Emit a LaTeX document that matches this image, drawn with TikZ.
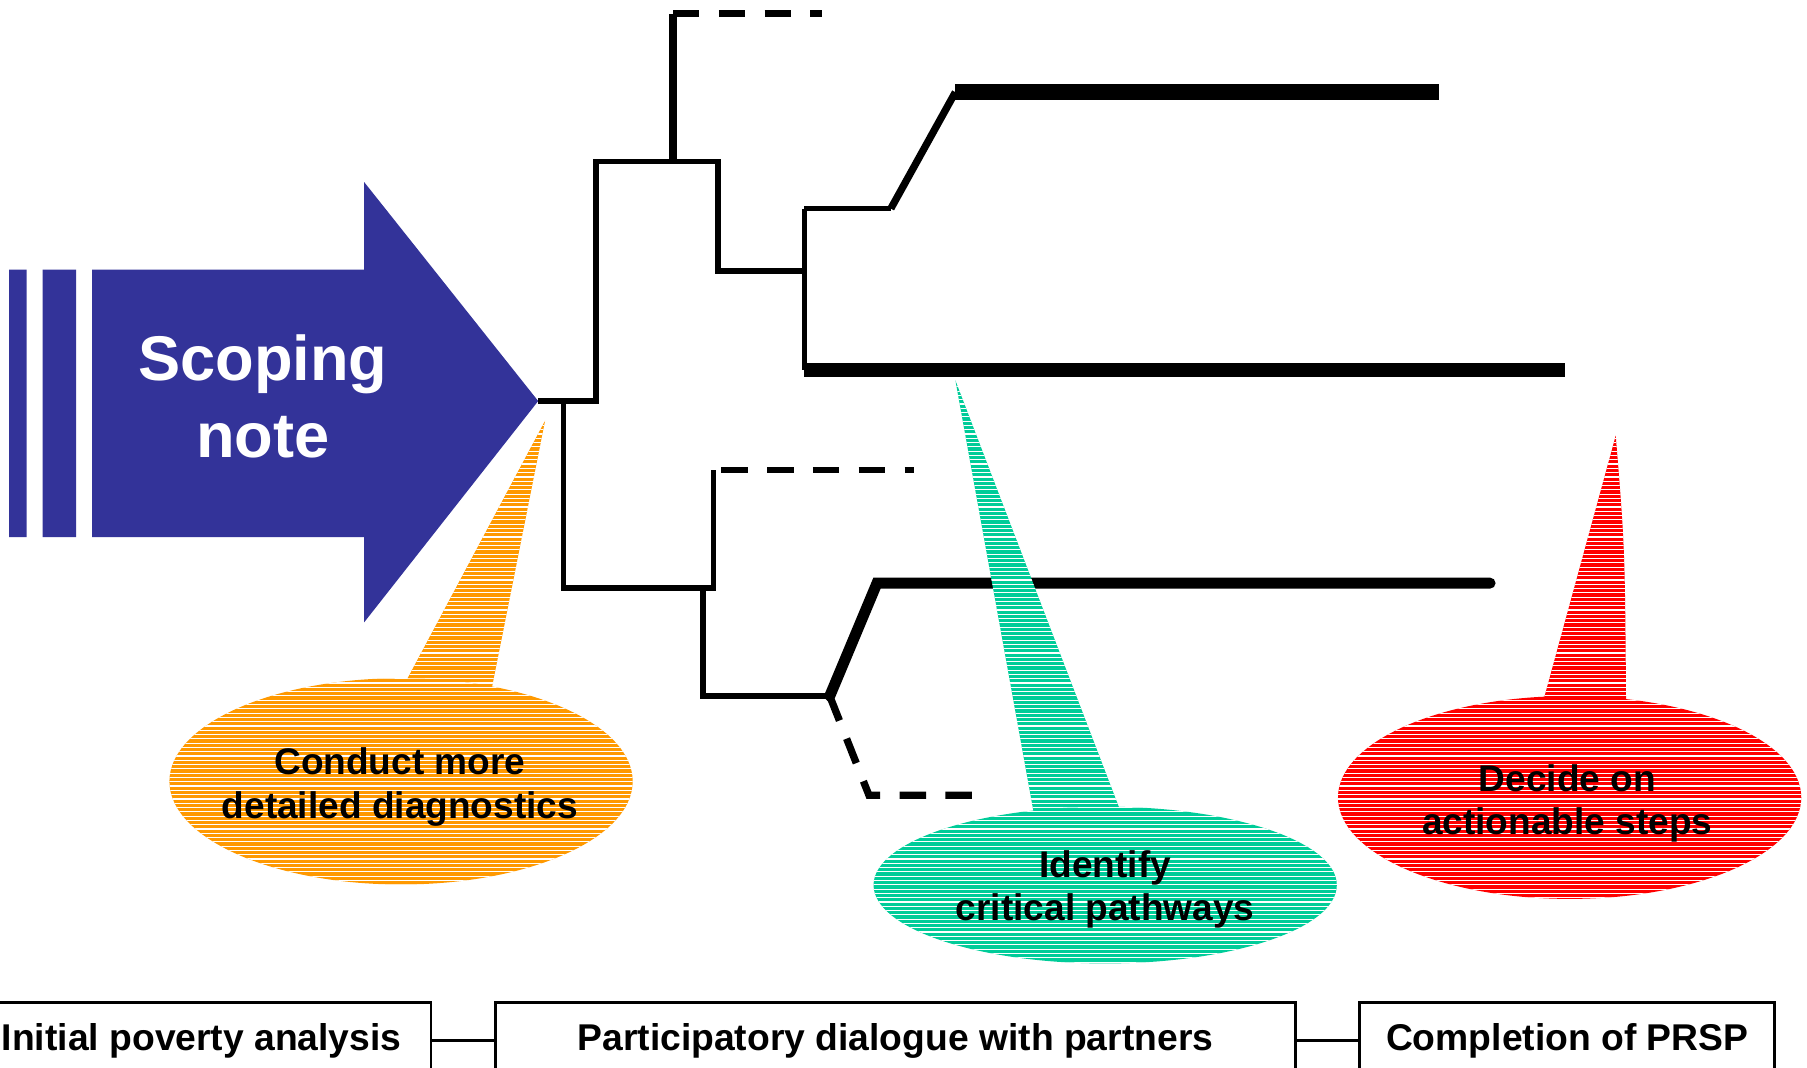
\documentclass[tikz,border=0pt]{standalone}
\usepackage{fontspec}
\setmainfont{Liberation Sans}
\usetikzlibrary{positioning, calc, patterns}

\definecolor{scopeblue}{RGB}{51,51,153}
\definecolor{diagorange}{RGB}{255,153,0}
\definecolor{pathteal}{RGB}{0,204,153}
\definecolor{stepred}{RGB}{255,0,0}

\pgfdeclarepatternformonly{fine stripes}{\pgfpointorigin}{\pgfqpoint{20pt}{1pt}}{\pgfqpoint{20pt}{1.06pt}}{%
  \pgfsetlinewidth{0.28pt}%
  \pgfpathmoveto{\pgfqpoint{0pt}{0.5pt}}%
  \pgfpathlineto{\pgfqpoint{20pt}{0.5pt}}%
  \pgfusepath{stroke}}

\begin{document}
\begin{tikzpicture}[every node/.style={font=\bfseries},
	branch/.style={line width=1.4pt},
	heavy/.style={line width=3.4pt},
	deadend/.style={line width=1.8pt, dash pattern=on 6.5pt off 4.8pt},
	striped/.style={postaction={pattern=fine stripes, pattern color=white}},
	callouttext/.style={align=center, inner sep=0pt, font=\fontsize{9.15}{10.7}\selectfont\bfseries},
	stagebox/.style={rectangle, draw, line width=0.7pt, minimum height=0.66cm, font=\fontsize{9.2}{11}\selectfont\bfseries}]
			\useasboundingbox (0,0) rectangle (15.68,9.26);
			\clip (0,0) rectangle (15.68,9.26);

			\fill[scopeblue] (0.08,4.60) rectangle (0.23,6.92) (0.37,4.60) rectangle (0.66,6.92);
			\fill[scopeblue] (0.80,4.60) -- (3.16,4.60) -- (3.16,3.86) -- (4.67,5.78) -- (3.16,7.68) -- (3.16,6.92) -- (0.80,6.92) -- cycle;
			\node[white, align=center, font=\fontsize{15.6}{19}\selectfont\bfseries] (scoping) at (2.28,5.82) {Scoping\\note};

			\coordinate (tip) at (4.67,5.78);
			\coordinate (upfork) at (5.17,7.86);
			\coordinate (upright) at (6.23,7.86);
			\coordinate (midjoin) at (6.98,6.91);
			\coordinate (midtop) at (6.98,7.45);
			\coordinate (midlow) at (6.98,6.05);
			\coordinate (bend) at (7.73,7.45);
			\coordinate (rise) at (8.29,8.46);
			\coordinate (riseend) at (12.49,8.46);
			\coordinate (midend) at (13.58,6.05);
			\coordinate (stub) at (5.84,7.86);
			\coordinate (stubtop) at (5.84,9.14);
			\coordinate (stubend) at (7.13,9.14);
			\coordinate (lowfork) at (4.89,5.78);
			\coordinate (lowright) at (6.19,4.16);
			\coordinate (lowup) at (6.19,5.18);
			\coordinate (lowupend) at (7.93,5.18);
			\coordinate (lowdown) at (6.10,4.16);
			\coordinate (lowcorner) at (6.10,3.22);
			\coordinate (split) at (7.20,3.22);
			\coordinate (climb) at (7.61,4.20);
			\coordinate (climbend) at (12.93,4.20);
			\coordinate (drop) at (7.54,2.36);
			\coordinate (dropend) at (8.49,2.36);

			\draw[branch] (tip) -| (upfork) -- (upright) |- (midjoin);
			\draw[branch] (midtop) -- (midlow);
			\draw[branch] (midtop) -- (bend);
			\draw[line width=1.8pt] (bend) -- (rise);
			\draw[line width=4.1pt] (rise) -- (riseend);
			\draw[heavy] (midlow) -- (midend);
			\draw[line width=1.9pt] (stub) -- (stubtop);
			\draw[deadend] (stubtop) -- (stubend);
			\draw[branch] (lowfork) |- (lowright) -- (lowup);
			\draw[deadend, line width=1.4pt] ($(lowup)+(0.07,0)$) -- (lowupend);
			\draw[branch] (lowdown) -- (lowcorner) -- (split);
			\draw[line width=2.7pt, line cap=round] (split) -- (climb) -- (climbend);
			\draw[deadend] (split) -- (drop) -- (dropend);

			\fill[diagorange, striped] (4.73,5.61) -- (3.47,3.25) -- (4.25,3.20) -- cycle;
			\fill[diagorange, striped] (3.48,2.48) ellipse [x radius=2.01, y radius=0.895];
			\node[callouttext] (diagnostics) at (3.47,2.43) {Conduct more\\detailed diagnostics};

			\fill[pathteal, striped] (8.29,5.96) -- (8.98,2.15) -- (9.75,2.15) -- cycle;
			\fill[pathteal, striped] (9.59,1.58) ellipse [x radius=2.01, y radius=0.68];
			\node[callouttext] (pathways) at (9.59,1.54) {Identify\\critical pathways};

			\fill[stepred, striped] (14.02,5.48) .. controls (14.10,4.50) .. (14.11,3.10) -- (13.37,3.10) -- cycle;
			\fill[stepred, striped] (13.62,2.34) ellipse [x radius=2.01, y radius=0.88];
			\node[callouttext] (steps) at (13.60,2.29) {Decide on\\actionable steps};

			\node[stagebox, minimum width=3.98cm] (initial) at (1.75,0.23) {Initial poverty analysis};
			\node[stagebox, minimum width=6.94cm, right=0.535cm of initial] (dialogue) {Participatory dialogue with partners};
			\node[stagebox, minimum width=3.60cm, right=0.535cm of dialogue] (completion) {Completion of PRSP};

			\draw[line width=0.7pt] (initial) -- (dialogue);
			\draw[line width=0.7pt] (dialogue) -- (completion);
		\end{tikzpicture}
\end{document}
